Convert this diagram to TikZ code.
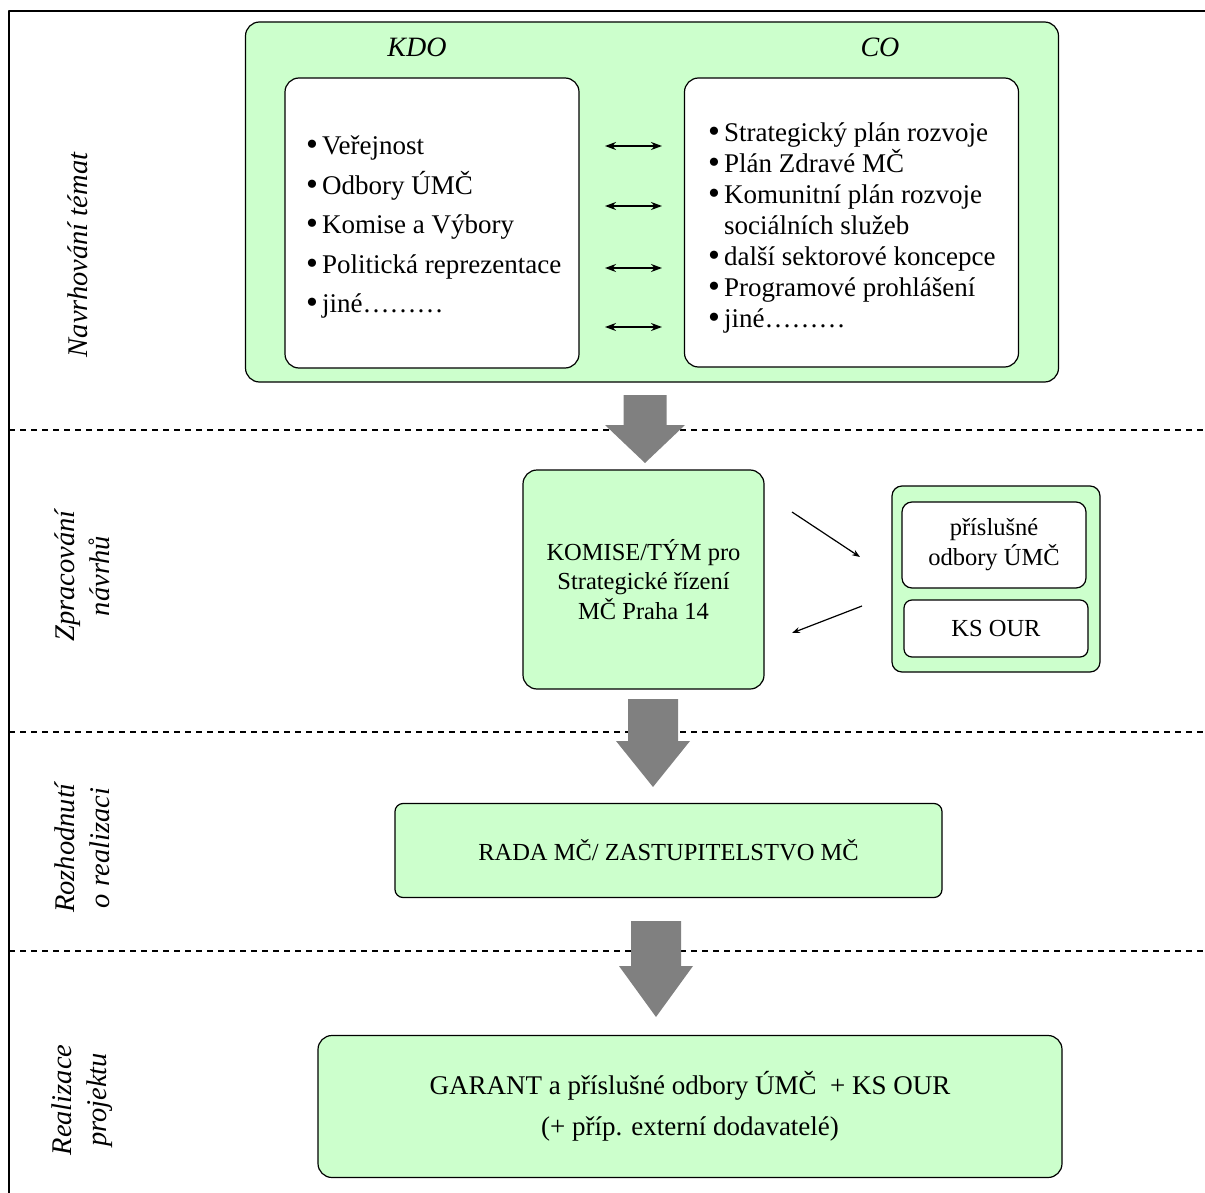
\documentclass[tikz,border=0pt]{standalone}
\usepackage{fontspec}
\setmainfont{Liberation Serif}
\usetikzlibrary{arrows.meta,positioning}
\definecolor{boxgreen}{RGB}{204,255,204}
\definecolor{arrowgray}{RGB}{128,128,128}
\newcommand{\itm}{\makebox[16pt][l]{\raisebox{-1pt}{\fontsize{34}{0}\selectfont\textbullet}}}
\tikzset{
  greenbox/.style={draw=black, line width=1.2pt, fill=boxgreen, rounded corners=14pt, align=center},
  whitebox/.style={draw=black, line width=1.2pt, fill=white, rounded corners=14pt, align=center},
  phase/.style={rotate=90, font=\fontsize{28.5}{35}\selectfont\itshape, align=center},
  sepline/.style={line width=1.2pt, dash pattern=on 6pt off 5pt},
  swap/.style={<->, >={Stealth[length=11pt,width=8pt]}, line width=1.8pt},
  thin arrow/.style={->, >={Stealth[length=8pt,width=6pt]}, line width=1.2pt}
}
\begin{document}
\begin{tikzpicture}[x=1pt,y=-1pt, font=\fontsize{25}{30}\selectfont, line join=round]
\useasboundingbox (0,0) rectangle (1205,1193);
% frame and phase separators
\draw[line width=1.5pt] (1205,11) -- (9,11) -- (9,1193);
\foreach \y in {430,732,951}{\draw[sepline] (9,\y) -- (1205,\y);}
% phase labels
\node[phase] (p1) at (78,255) {Navrhování témat};
\node[phase] (p2) at (82,576) {Zpracování\\návrhů};
\node[phase] (p3) at (82,848) {Rozhodnutí\\o realizaci};
\node[phase] (p4) at (82,1100) {Realizace\\projektu};
% big gray arrows: x/top/head/tip/shaft/head half width
\foreach \x/\t/\h/\e/\s/\w in {645/395/425/463/21.5/40, 653/699/741/787/25/37, 656/921/966/1017/25/37}{
  \fill[arrowgray] (\x-\s,\t) -- (\x+\s,\t) -- (\x+\s,\h) -- (\x+\w,\h) -- (\x,\e)
    -- (\x-\w,\h) -- (\x-\s,\h) -- cycle;}
% topics
\node[greenbox, minimum width=813pt, minimum height=360pt] (navrh) at (652,202) {};
\node[font=\fontsize{28}{30}\selectfont\itshape] (kdo) at (417,47) {KDO};
\node[font=\fontsize{28}{30}\selectfont\itshape] (co) at (880,47) {CO};
\node[whitebox, minimum width=294pt, minimum height=290pt] (kdobox) at (432,223) {};
\node[whitebox, minimum width=334pt, minimum height=289pt] (cobox) at (851.5,222.5) {};
\node[anchor=west, align=left, inner sep=0pt, font=\fontsize{27}{39.5}\selectfont] (kdolist) at (306,227)
  {\itm Veřejnost\\\itm Odbory ÚMČ\\\itm Komise a Výbory\\\itm Politická reprezentace\\\itm jiné\dots\dots\dots};
\node[anchor=west, align=left, inner sep=0pt, font=\fontsize{27}{31}\selectfont] (colist) at (708,228)
  {\itm Strategický plán rozvoje\\\itm Plán Zdravé MČ\\\itm Komunitní plán rozvoje\\\hspace*{16pt}sociálních služeb\\
   \itm další sektorové koncepce\\\itm Programové prohlášení\\\itm jiné\dots\dots\dots};
\foreach \y [count=\i] in {146,206,268,327}{
  \coordinate (l\i) at (605,\y);
  \coordinate (r\i) at (662,\y);
  \draw[swap] (l\i) -- (r\i);}
% processing
\node[greenbox, minimum width=241pt, minimum height=219pt, font=\fontsize{24.5}{29.5}\selectfont] (komise) at (643.5,579.5)
  {KOMISE/TÝM pro\\Strategické řízení\\MČ Praha 14};
\node[greenbox, rounded corners=10pt, minimum width=208pt, minimum height=186pt] (odbgroup) at (996,579) {};
\node[whitebox, rounded corners=10pt, minimum width=184pt, minimum height=86pt, font=\fontsize{24.5}{30}\selectfont] (odbory) at (994,545)
  {příslušné\\odbory ÚMČ};
\node[whitebox, rounded corners=8pt, minimum width=184pt, minimum height=57pt, font=\fontsize{24.5}{30}\selectfont] (ksour) at (996,628.5) {KS OUR};
\coordinate (ka) at (792,512);
\coordinate (kb) at (860,557);
\coordinate (ob) at (862,606);
\coordinate (oa) at (792,633);
\draw[thin arrow] (ka) -- (kb);
\draw[thin arrow] (ob) -- (oa);
% decision
\node[greenbox, rounded corners=8pt, minimum width=547pt, minimum height=94pt, font=\fontsize{24.5}{30}\selectfont] (rada) at (668.5,850.5)
  {RADA MČ/ ZASTUPITELSTVO MČ};
% realisation
\node[greenbox, minimum width=744pt, minimum height=142pt, font=\fontsize{27}{41}\selectfont] (garant) at (690,1106.5)
  {GARANT a příslušné odbory ÚMČ~~+ KS OUR\\(+ příp. externí dodavatelé)};
\end{tikzpicture}
\end{document}
